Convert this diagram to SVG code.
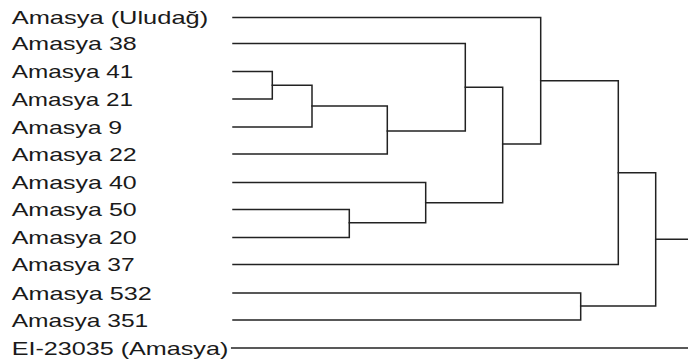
<svg xmlns="http://www.w3.org/2000/svg" width="688" height="363" viewBox="0 0 688 363">
  <style>
    .lbl { font-family: "Liberation Sans", Arial, sans-serif; font-size: 18.5px; fill: #1a1a1a; }
    .edge { fill: none; stroke: #222; stroke-width: 1.5; stroke-linejoin: miter; stroke-linecap: square; }
  </style>
  <rect width="688" height="363" fill="#ffffff"/>

  <!-- leaf labels -->
  <g id="leaf-uludag"><text class="lbl" x="11.7" y="24.3" textLength="196.5" lengthAdjust="spacingAndGlyphs">Amasya (Uludağ)</text></g>
  <g id="leaf-38"><text class="lbl" x="11.7" y="50.3" textLength="125" lengthAdjust="spacingAndGlyphs">Amasya 38</text></g>
  <g id="leaf-41"><text class="lbl" x="11.7" y="78.3" textLength="121.6" lengthAdjust="spacingAndGlyphs">Amasya 41</text></g>
  <g id="leaf-21"><text class="lbl" x="11.7" y="105.8" textLength="121.3" lengthAdjust="spacingAndGlyphs">Amasya 21</text></g>
  <g id="leaf-9"><text class="lbl" x="11.7" y="133.8" textLength="110.5" lengthAdjust="spacingAndGlyphs">Amasya 9</text></g>
  <g id="leaf-22"><text class="lbl" x="11.7" y="160.8" textLength="125" lengthAdjust="spacingAndGlyphs">Amasya 22</text></g>
  <g id="leaf-40"><text class="lbl" x="11.7" y="189.3" textLength="125" lengthAdjust="spacingAndGlyphs">Amasya 40</text></g>
  <g id="leaf-50"><text class="lbl" x="11.7" y="216.3" textLength="125" lengthAdjust="spacingAndGlyphs">Amasya 50</text></g>
  <g id="leaf-20"><text class="lbl" x="11.7" y="244.3" textLength="125" lengthAdjust="spacingAndGlyphs">Amasya 20</text></g>
  <g id="leaf-37"><text class="lbl" x="11.7" y="271.3" textLength="123" lengthAdjust="spacingAndGlyphs">Amasya 37</text></g>
  <g id="leaf-532"><text class="lbl" x="11.7" y="299.8" textLength="140" lengthAdjust="spacingAndGlyphs">Amasya 532</text></g>
  <g id="leaf-351"><text class="lbl" x="11.7" y="326.8" textLength="136.6" lengthAdjust="spacingAndGlyphs">Amasya 351</text></g>
  <g id="leaf-ei23035"><text class="lbl" x="11.7" y="354.8" textLength="216.6" lengthAdjust="spacingAndGlyphs">EI-23035 (Amasya)</text></g>

  <!-- dendrogram branches -->
  <g id="connectors">
    <path class="edge" d="M233,71.5 H272.3 V99 H233"/>
    <path class="edge" d="M272.3,85.3 H312 V127 H233"/>
    <path class="edge" d="M312,106 H387.3 V154 H233"/>
    <path class="edge" d="M233,43.5 H465.3 V131 H387.3"/>
    <path class="edge" d="M233,209.5 H349.3 V237.5 H233"/>
    <path class="edge" d="M233,182.5 H425.7 V222.7 H349.3"/>
    <path class="edge" d="M465.3,87.3 H502.7 V202.7 H425.7"/>
    <path class="edge" d="M233,17.5 H540.7 V144 H502.7"/>
    <path class="edge" d="M540.7,80.7 H618.3 V264.5 H233"/>
    <path class="edge" d="M233,293 H580.7 V320 H233"/>
    <path class="edge" d="M618.3,172.7 H655.7 V306 H580.7"/>
    <path class="edge" d="M655.7,239.3 H690"/>
    <path class="edge" d="M231.7,348 H690"/>
  </g>
</svg>
